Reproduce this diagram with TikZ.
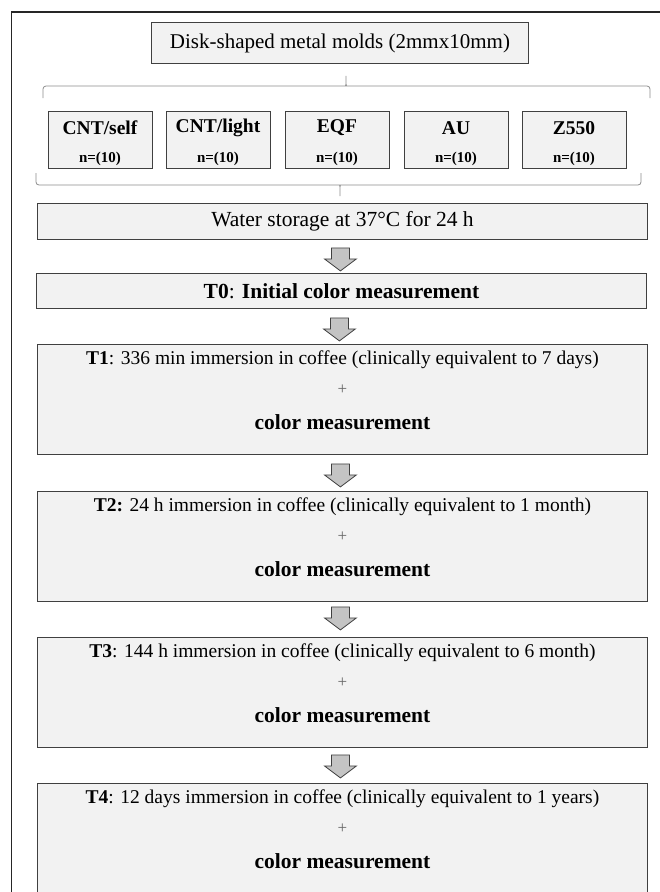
\documentclass[tikz,border=0pt]{standalone}
\usepackage{fontspec}
\setmainfont{Liberation Serif}
\usetikzlibrary{positioning}

\definecolor{boxfill}{HTML}{F2F2F2}
\definecolor{boxline}{HTML}{404040}
\definecolor{arrowgray}{HTML}{C4C4C4}
\definecolor{bracegray}{HTML}{8C8C8C}

\tikzset{
  plainbox/.style={draw=boxline, fill=boxfill, line width=0.9pt, inner sep=0pt},
  widebox/.style={plainbox, minimum width=610pt, anchor=north west},
  grpbox/.style={plainbox, minimum width=104pt, minimum height=57pt, anchor=north},
  downarrow/.pic={
    \draw[draw=boxline, fill=arrowgray, line width=0.8pt, line join=miter]
      (-9,0) -- (9,0) -- (9,11) -- (16,11) -- (0,23) -- (-16,11) -- (-9,11) -- cycle;
  },
  bracket/.style={draw=bracegray, line width=0.8pt, rounded corners=3pt},
  bigtext/.style={font=\fontsize{21.5}{24}\selectfont, inner sep=0pt},
  stagetext/.style={font=\fontsize{19.5}{22}\selectfont, inner sep=0pt},
  plustext/.style={font=\fontsize{17}{19}\selectfont, text=black!60, inner sep=0pt},
  grplabel/.style={font=\fontsize{19.5}{22}\selectfont\bfseries, inner sep=0pt},
  grpcount/.style={font=\fontsize{15}{17}\selectfont\bfseries, inner sep=0pt}
}

\begin{document}
\begin{tikzpicture}[x=1pt, y=-1pt]
    \useasboundingbox (0,0) rectangle (660,892);
    \clip (0,0) rectangle (660,892);
    \draw[line width=1.2pt, black!85] (11.7,12) rectangle (680,910);

    % molds and the five groups
    \node[plainbox, minimum width=377pt, minimum height=41pt, anchor=north west, bigtext] (molds) at (151,22)
        {\fontsize{21}{24}\selectfont Disk-shaped metal molds (2mmx10mm)};
    \draw[bracket] (43,98) |- (343.5,86) .. controls (346,86) and (346,84) .. (346,74)
        .. controls (346,84) and (346,86) .. (348.5,86) -| (650,98);
    \foreach \lab/\cx [count=\i] in {{CNT/self}/100, {CNT/light}/218, EQF/337, AU/456, Z550/574} {
        \node[grpbox] (g\i) at (\cx,111) {};
        \node[grplabel] (g\i-l) at ([yshift=-17pt]g\i.north) {\lab};
        \node[grpcount] (g\i-n) at ([yshift=-48pt]g\i.north) {n=(10)};
    }
    \draw[bracket] (36,173) |- (337.5,185) .. controls (340,185) and (340,187) .. (340,198)
        .. controls (340,187) and (340,185) .. (342.5,185) -| (641,173);

    % storage and baseline
    \node[widebox, minimum height=36pt, bigtext] (water) at (37,203) {Water storage at 37°C for 24 h};
    \node[widebox, minimum height=35pt, bigtext] (t0) at (36,273) {\textbf{T0}: \textbf{Initial color measurement}};

    % staining steps
    \foreach \nm/\top/\txt in {
        t1/344/{\textbf{T1}: 336 min immersion in coffee (clinically equivalent to 7 days)},
        t2/491/{\textbf{T2:} 24 h immersion in coffee (clinically equivalent to 1 month)},
        t3/637/{\textbf{T3}: 144 h immersion in coffee (clinically equivalent to 6 month)},
        t4/783/{\textbf{T4}: 12 days immersion in coffee (clinically equivalent to 1 years)}} {
        \node[widebox, minimum height=110pt] (\nm) at (37,\top) {};
        \node[stagetext] (\nm-a) at ([yshift=-16pt]\nm.north) {\txt};
        \node[plustext] (\nm-b) at ([yshift=-46pt]\nm.north) {+};
        \node[bigtext, font=\fontsize{21.5}{24}\selectfont\bfseries] (\nm-c) at ([yshift=-78pt]\nm.north) {color measurement};
    }

    % arrows
    \pic (a1) at ([xshift=-2pt, yshift=-8pt]water.south) {downarrow};
    \pic (a2) at ([xshift=-2pt, yshift=-9pt]t0.south) {downarrow};
    \pic (a3) at ([xshift=-2pt, yshift=-9pt]t1.south) {downarrow};
    \pic (a4) at ([xshift=-2pt, yshift=-5pt]t2.south) {downarrow};
    \pic (a5) at ([xshift=-2pt, yshift=-7pt]t3.south) {downarrow};
\end{tikzpicture}
\end{document}
